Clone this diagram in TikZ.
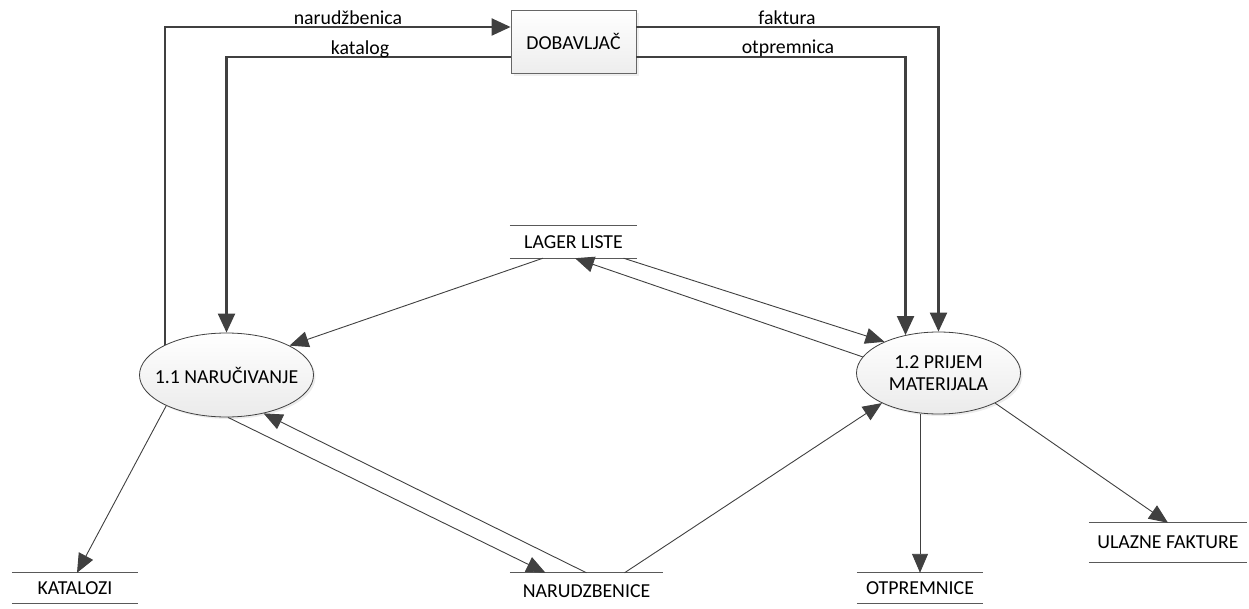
\documentclass[tikz,border=0pt]{standalone}
\usepackage{fontspec}
\setmainfont{Carlito}
\usetikzlibrary{arrows.meta,shapes.geometric,shadows}
\definecolor{ln}{HTML}{404040}
\definecolor{st}{HTML}{595959}
\begin{document}
\begin{tikzpicture}[x=1pt,y=-1pt,font=\fontsize{19.8}{22}\selectfont,
  thickflow/.style={draw=ln,line width=2.2pt,-{Triangle[length=19pt,width=17pt]}},
  thinflow/.style={draw=ln,line width=0.9pt,-{Triangle[length=19pt,width=16pt]}},
  proc/.style={ellipse,draw=ln,line width=0.8pt,top color=white,bottom color=gray!16,
    inner xsep=-14pt,inner ysep=0pt,align=center,drop shadow={shadow xshift=2pt,shadow yshift=-2pt,fill=gray!30}},
  ext/.style={rectangle,draw=gray!80!black,line width=0.8pt,top color=white,bottom color=gray!14,
    minimum width=125pt,minimum height=63pt,inner sep=0pt,
    drop shadow={shadow xshift=3pt,shadow yshift=-3pt,fill=gray!25}},
  store/.style={inner sep=0pt},
  storeline/.style={draw=st,line width=1.1pt},
  lbl/.style={anchor=base,inner sep=0pt}]
\useasboundingbox (0,0) rectangle (1249,609);

\node[ext] (dob) at (573.5,41.5) {DOBAVLJAČ};
\node[proc,minimum width=174pt,minimum height=84pt] (n11) at (226.5,375) {1.1 NARUČIVANJE};
\node[proc,minimum width=164pt,minimum height=82pt] (n12) at (938.5,373) {1.2 PRIJEM\\MATERIJALA};

\node[store,minimum width=127pt,minimum height=32pt] (lag) at (573.5,242) {LAGER LISTE};
\node[store,minimum width=126pt,minimum height=30pt] (kat) at (75,588) {KATALOZI};
\node[store,minimum width=153pt,minimum height=36pt] (nar) at (586.5,591) {NARUDZBENICE};
\node[store,minimum width=126pt,minimum height=30pt] (otp) at (920,588) {OTPREMNICE};
\node[store,minimum width=158pt,minimum height=39pt] (ula) at (1168,542.5) {ULAZNE FAKTURE};

\foreach \s in {lag,kat,otp,ula}{
  \draw[storeline] (\s.north west) -- (\s.north east);
  \draw[storeline] (\s.south west) -- (\s.south east);
}
\draw[storeline] (nar.north west) -- (nar.north east);

% thick flows to/from the supplier
\draw[thickflow] (n11.154) |- ([yshift=14.5pt]dob.west);
\draw[thickflow] ([yshift=-15.5pt]dob.west) -| (n11.north);
\draw[thickflow] ([yshift=14.5pt]dob.east) -| (n12.north);
\draw[thickflow] ([yshift=-15.5pt]dob.east) -| (n12.131);

\node[lbl] at (348,25) {narudžbenica};
\node[lbl] at (360,55) {katalog};
\node[lbl] at (787,25) {faktura};
\node[lbl] at (788,54) {otpremnica};

% thin flows
\draw[thinflow] ([xshift=-30.5pt]lag.south) -- (n11.25);
\draw[thinflow] (n12.168) -- ([xshift=1.5pt]lag.south);
\draw[thinflow] ([xshift=50pt]lag.south) -- (n12.150);
\draw[thinflow] (n11.207) -- ([xshift=2pt]kat.north);
\draw[thinflow] (n11.-88) -- ([xshift=-41pt]nar.north);
\draw[thinflow] (nar.north) -- (n11.-46);
\draw[thinflow] ([xshift=38pt]nar.north) -- (n12.208);
\draw[thinflow] (n12.south -| otp.north) -- (otp.north);
\draw[thinflow] (n12.-28) -- (ula.north);
\end{tikzpicture}
\end{document}
